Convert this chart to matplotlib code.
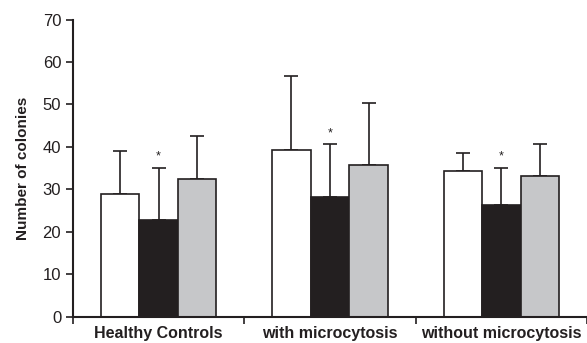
import matplotlib
matplotlib.use("Agg")
import matplotlib.pyplot as plt
import numpy as np

plt.rcParams['font.family'] = ['Liberation Sans', 'DejaVu Sans']

categories = ["Healthy Controls", "with microcytosis", "without microcytosis"]
white_vals = [29.0, 39.3, 34.4]
white_err = [10.0, 17.3, 4.2]
black_vals = [22.8, 28.1, 26.3]
black_err = [12.3, 12.5, 8.8]
gray_vals = [32.5, 35.8, 33.1]
gray_err = [10.1, 14.6, 7.5]
star_on_black = [True, True, True]

fig = plt.figure(figsize=(5.87, 3.43), dpi=100)
ax = fig.add_axes([73/587, 26.3/343, 514/587, 297.2/343])

x = np.arange(len(categories)) + 0.5
w = 0.225
series = [(white_vals, white_err, "white"), (black_vals, black_err, "#231f20"), (gray_vals, gray_err, "#c6c7c9")]
for i, (vals, errs, col) in enumerate(series):
    pos = x + (i - 1) * w
    ax.bar(pos, vals, width=w, color=col, edgecolor="#231f20", linewidth=1.2, zorder=2)
    ax.errorbar(pos, vals, yerr=[np.zeros(len(vals)), errs], fmt='none', ecolor="#231f20",
                elinewidth=1.2, capsize=4.7, capthick=1.2, zorder=1)

for j, s in enumerate(star_on_black):
    if s:
        ax.annotate("*", (x[j], black_vals[j] + black_err[j]), xytext=(0, 8),
                    textcoords="offset points", ha="center", va="center", fontsize=9, color="#231f20")

ax.set_xlim(0, 3)
ax.set_ylim(0, 70)
ax.set_yticks(range(0, 71, 10))
ax.set_xticks(x)
ax.set_xticklabels(categories, fontweight="bold", fontsize=11.5, color="#231f20")
ax.set_xticks([0, 1, 2, 3], minor=True)
ax.tick_params(axis='x', which='major', length=0, pad=7)
ax.tick_params(axis='x', which='minor', length=5, width=1.2, direction='out', color="#231f20")
ax.tick_params(axis='y', length=5, width=1.2, direction='out', labelsize=12, color="#231f20", labelcolor="#231f20")
ax.set_ylabel("Number of colonies", fontweight="bold", fontsize=11, labelpad=9, color="#231f20")
for s in ["top", "right"]:
    ax.spines[s].set_visible(False)
for s in ["left", "bottom"]:
    ax.spines[s].set_linewidth(1.5)
    ax.spines[s].set_color("#231f20")

fig.savefig("out.png", dpi=100)
